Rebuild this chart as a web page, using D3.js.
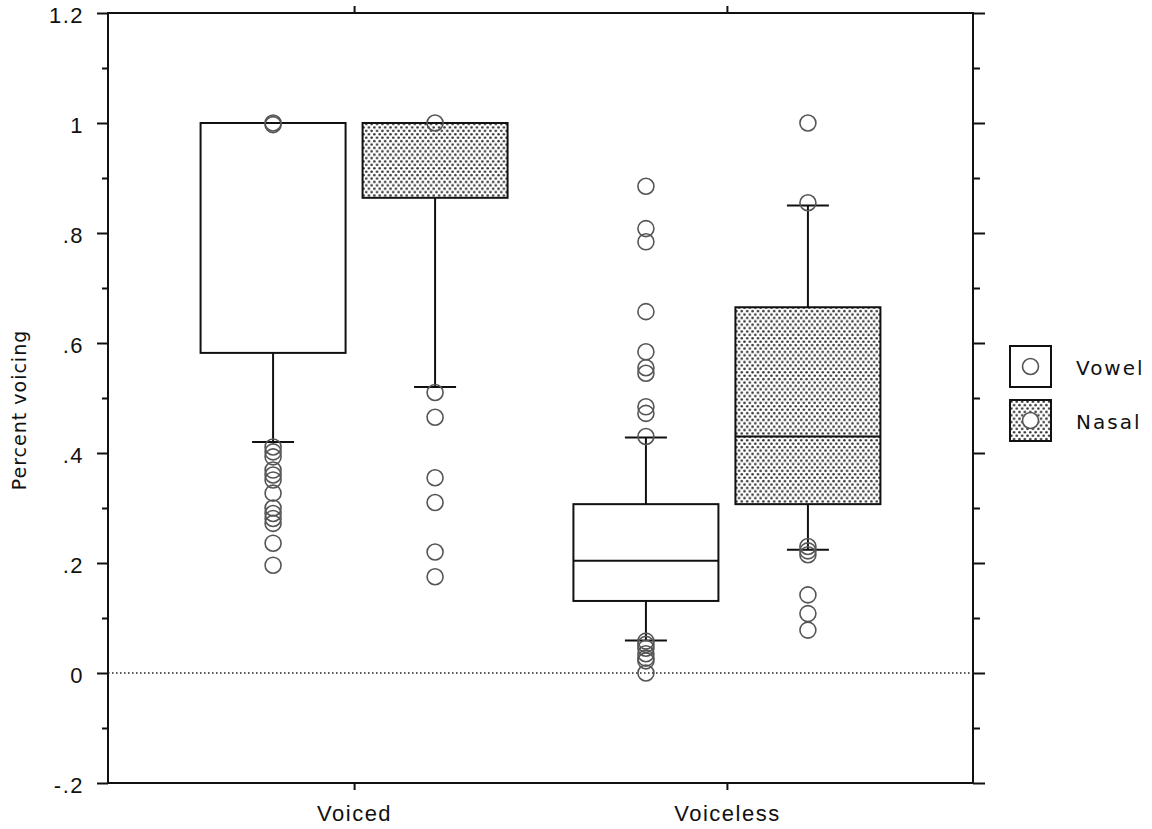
<!DOCTYPE html>
<html>
<head>
<meta charset="utf-8">
<script src="https://cdn.jsdelivr.net/npm/d3@7"></script>
<style>
  body { margin: 0; background: #fff; }
  svg { display: block; font-family: "DejaVu Sans", sans-serif; }
</style>
</head>
<body>
<svg id="chart"></svg>
<script>
// categories and series
const groups = ["Voiced", "Voiceless"];
const series = ["Vowel", "Nasal"];
const yTicks = [-0.2, 0, 0.2, 0.4, 0.6, 0.8, 1, 1.2];
const yTickLabels = ["-.2", "0", ".2", ".4", ".6", ".8", "1", "1.2"];

// box summaries, one value per group
const vowelQ1 = [0.582, 0.131];
const vowelMed = [1.0, 0.204];
const vowelQ3 = [1.0, 0.307];
const vowelLo = [0.42, 0.059];
const vowelHi = [1.0, 0.428];

const nasalQ1 = [0.864, 0.307];
const nasalMed = [1.0, 0.43];
const nasalQ3 = [1.0, 0.665];
const nasalLo = [0.52, 0.224];
const nasalHi = [1.0, 0.85];

// outliers
const vowelVoicedOut = [1.0, 0.997, 0.411, 0.402, 0.393, 0.369, 0.36, 0.351, 0.327, 0.30, 0.29, 0.281, 0.272, 0.236, 0.196];
const nasalVoicedOut = [1.0, 0.51, 0.465, 0.355, 0.31, 0.22, 0.175];
const vowelVoicelessOut = [0.885, 0.808, 0.784, 0.657, 0.584, 0.555, 0.545, 0.484, 0.472, 0.43, 0.058, 0.052, 0.045, 0.035, 0.027, 0.022, 0.0];
const nasalVoicelessOut = [1.0, 0.855, 0.23, 0.222, 0.215, 0.142, 0.108, 0.078];

const W = 1152, H = 829;
const m = { left: 108, right: 973, top: 13, bottom: 783 };

const svg = d3.select("#chart").attr("width", W).attr("height", H);

const defs = svg.append("defs");
const pat = defs.append("pattern")
  .attr("id", "dots")
  .attr("patternUnits", "userSpaceOnUse")
  .attr("width", 5.4).attr("height", 6.8);
pat.append("rect").attr("width", 5.4).attr("height", 6.8).attr("fill", "#fff");
pat.append("circle").attr("cx", 1.35).attr("cy", 1.7).attr("r", 1.3).attr("fill", "#333");
pat.append("circle").attr("cx", 4.05).attr("cy", 5.1).attr("r", 1.3).attr("fill", "#333");

const y = d3.scaleLinear().domain([-0.2, 1.2]).range([m.bottom, m.top]);
const x = d3.scalePoint().domain(groups).range([m.left, m.right]).padding(0.66);
const off = d3.scalePoint().domain(series).range([-81, 81]);
const boxW = 145, capW = 42;

// axes
const minor = d3.range(-0.1, 1.2, 0.2);
svg.append("g").attr("transform", `translate(${m.left},0)`)
  .call(d3.axisLeft(y).tickValues(yTicks).tickFormat((d, i) => yTickLabels[i]).tickSize(11).tickPadding(13))
  .selectAll("text").attr("dy", "0.45em");
svg.append("g").attr("transform", `translate(${m.left},0)`)
  .call(d3.axisLeft(y).tickValues(minor).tickFormat("").tickSize(6));
svg.append("g").attr("transform", `translate(${m.right},0)`)
  .call(d3.axisRight(y).tickValues(yTicks).tickFormat("").tickSize(12));
svg.append("g").attr("transform", `translate(${m.right},0)`)
  .call(d3.axisRight(y).tickValues(minor).tickFormat("").tickSize(7));
svg.append("g").attr("transform", `translate(0,${m.bottom})`)
  .call(d3.axisBottom(x).tickSize(7).tickPadding(15));
svg.append("g").attr("transform", `translate(0,${m.top})`)
  .call(d3.axisTop(x).tickSize(7).tickFormat(""));

svg.selectAll(".domain").remove();
svg.selectAll(".tick line").attr("stroke", "#111").attr("stroke-width", 2);
svg.selectAll(".tick text").attr("fill", "#111")
  .style("font-size", "22px").style("letter-spacing", "1.5px");

// frame
svg.append("rect")
  .attr("x", m.left).attr("y", m.top)
  .attr("width", m.right - m.left).attr("height", m.bottom - m.top)
  .attr("fill", "none").attr("stroke", "#111").attr("stroke-width", 2);

// zero line
svg.append("line")
  .attr("x1", m.left).attr("x2", m.right)
  .attr("y1", y(0)).attr("y2", y(0))
  .attr("stroke", "#222").attr("stroke-width", 1.5)
  .attr("stroke-dasharray", "1.5,2.5");

// y title
svg.append("text")
  .attr("transform", `translate(26,410) rotate(-90)`)
  .attr("text-anchor", "middle")
  .attr("fill", "#111")
  .style("font-size", "19px")
  .style("letter-spacing", "1px")
  .text("Percent voicing");

const boxes = [];
groups.forEach((g, i) => {
  boxes.push({ g, s: "Vowel", q1: vowelQ1[i], med: vowelMed[i], q3: vowelQ3[i], lo: vowelLo[i], hi: vowelHi[i],
    out: i === 0 ? vowelVoicedOut : vowelVoicelessOut });
  boxes.push({ g, s: "Nasal", q1: nasalQ1[i], med: nasalMed[i], q3: nasalQ3[i], lo: nasalLo[i], hi: nasalHi[i],
    out: i === 0 ? nasalVoicedOut : nasalVoicelessOut });
});

const bx = svg.append("g").selectAll("g").data(boxes).enter().append("g")
  .attr("transform", d => `translate(${x(d.g) + off(d.s)},0)`);

// whiskers
bx.append("line")
  .attr("x1", 0).attr("x2", 0)
  .attr("y1", d => y(d.hi)).attr("y2", d => y(d.q3))
  .attr("stroke", "#111").attr("stroke-width", 2);
bx.append("line")
  .attr("x1", 0).attr("x2", 0)
  .attr("y1", d => y(d.q1)).attr("y2", d => y(d.lo))
  .attr("stroke", "#111").attr("stroke-width", 2);
bx.filter(d => d.hi > d.q3).append("line")
  .attr("x1", -capW / 2).attr("x2", capW / 2)
  .attr("y1", d => y(d.hi)).attr("y2", d => y(d.hi))
  .attr("stroke", "#111").attr("stroke-width", 2);
bx.append("line")
  .attr("x1", -capW / 2).attr("x2", capW / 2)
  .attr("y1", d => y(d.lo)).attr("y2", d => y(d.lo))
  .attr("stroke", "#111").attr("stroke-width", 2);

// boxes
bx.append("rect")
  .attr("x", -boxW / 2).attr("width", boxW)
  .attr("y", d => y(d.q3)).attr("height", d => y(d.q1) - y(d.q3))
  .attr("fill", d => d.s === "Nasal" ? "url(#dots)" : "#fff")
  .attr("stroke", "#111").attr("stroke-width", 2);
bx.append("line")
  .attr("x1", -boxW / 2).attr("x2", boxW / 2)
  .attr("y1", d => y(d.med)).attr("y2", d => y(d.med))
  .attr("stroke", "#111").attr("stroke-width", 2);

// outliers
bx.selectAll("circle").data(d => d.out).enter().append("circle")
  .attr("cx", 0).attr("cy", v => y(v)).attr("r", 8)
  .attr("fill", "none").attr("stroke", "#555").attr("stroke-width", 1.6);

// legend
const lg = svg.append("g").selectAll("g").data(series).enter().append("g")
  .attr("transform", (d, i) => `translate(1010,${346 + i * 54})`);
lg.append("rect")
  .attr("width", 41).attr("height", 41)
  .attr("fill", d => d === "Nasal" ? "url(#dots)" : "#fff")
  .attr("stroke", "#111").attr("stroke-width", 2);
lg.append("circle")
  .attr("cx", 20.5).attr("cy", 20.5).attr("r", 8)
  .attr("fill", "#fff").attr("stroke", "#555").attr("stroke-width", 1.6);
lg.append("text")
  .attr("x", 66).attr("y", 29)
  .attr("fill", "#111")
  .style("font-size", "20px")
  .style("letter-spacing", "2px")
  .text(d => d);
</script>
</body>
</html>
